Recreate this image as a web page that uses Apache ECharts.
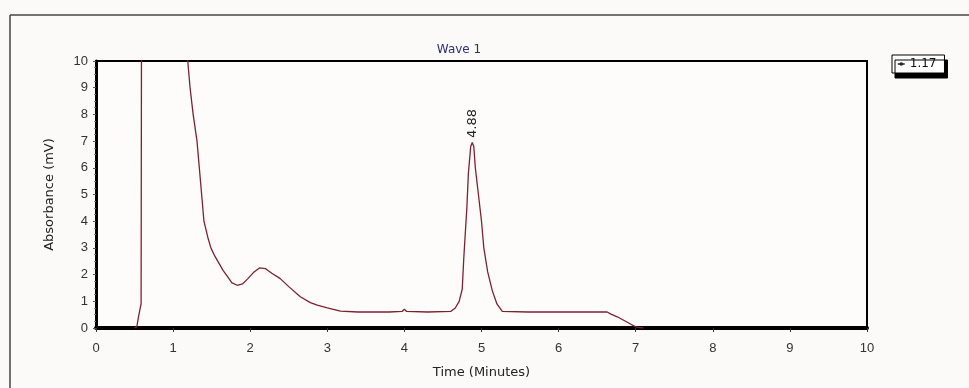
<!DOCTYPE html>
<html>
<head>
<meta charset="utf-8">
<script src="https://cdn.jsdelivr.net/npm/echarts@6/dist/echarts.min.js"></script>
<style>
  html, body { margin: 0; padding: 0; background: #fcfaf8; }
  #chart { width: 969px; height: 388px; }
</style>
</head>
<body>
<div id="chart"></div>
<script>
// Chromatogram trace (minutes, mV)
const times = [
  0.50, 0.53, 0.55, 0.57, 0.585, 0.59, 1.17, 1.19, 1.22, 1.26, 1.31, 1.34, 1.37, 1.40,
  1.45, 1.49, 1.54, 1.59, 1.65, 1.70, 1.76, 1.83, 1.90, 1.97, 2.05, 2.12, 2.20, 2.28,
  2.39, 2.50, 2.65, 2.78, 2.87, 3.00, 3.17, 3.40, 3.80, 3.97, 4.00, 4.03, 4.30, 4.60,
  4.66, 4.71, 4.75, 4.77, 4.81, 4.83, 4.86, 4.88, 4.90, 4.92, 4.96, 5.00, 5.03, 5.08,
  5.14, 5.20, 5.27, 5.60, 6.00, 6.40, 6.63, 6.68, 6.76, 6.85, 6.95, 7.02, 7.10
];
const absorbance = [
  0, 0.05, 0.4, 0.7, 0.9, 11, 11, 10, 9.0, 8.0, 7.0, 6.0, 5.0, 4.0,
  3.4, 3.0, 2.7, 2.45, 2.15, 1.95, 1.7, 1.6, 1.65, 1.85, 2.1, 2.25, 2.22, 2.05,
  1.85, 1.55, 1.17, 0.95, 0.86, 0.75, 0.63, 0.6, 0.6, 0.62, 0.7, 0.62, 0.6, 0.62,
  0.75, 1.0, 1.45, 2.6, 4.5, 5.8, 6.8, 6.95, 6.8, 6.0, 5.0, 4.0, 3.0, 2.1,
  1.4, 0.9, 0.62, 0.6, 0.6, 0.6, 0.6, 0.52, 0.42, 0.28, 0.12, 0.02, 0
];
const xTicks = [0, 1, 2, 3, 4, 5, 6, 7, 8, 9, 10];
const yTicks = [0, 1, 2, 3, 4, 5, 6, 7, 8, 9, 10];
const peakTime = 4.88;
const peakValue = 6.95;
const seriesName = '1.17';

const chart = echarts.init(document.getElementById('chart'));
const font = '"Liberation Sans", Arial, sans-serif';
const wideFont = '"DejaVu Sans", Verdana, sans-serif';

chart.setOption({
  backgroundColor: '#fcfaf8',
  animation: false,
  textStyle: { fontFamily: font },
  title: {
    text: 'Wave 1',
    left: 454,
    top: 39,
    textAlign: 'center',
    textStyle: { color: '#2b2f78', fontSize: 12, fontWeight: 'normal', fontFamily: wideFont }
  },
  legend: {
    data: [{ name: seriesName, itemStyle: { color: '#222' }, lineStyle: { color: '#222', width: 1.5 } }],
    left: 892,
    top: 55,
    padding: [3, 8, 3, 5],
    itemWidth: 7,
    itemHeight: 2,
    itemGap: 4,
    backgroundColor: '#ffffff',
    borderColor: '#000',
    borderWidth: 1,
    shadowColor: '#000',
    shadowBlur: 0,
    shadowOffsetX: 3,
    shadowOffsetY: 5,
    textStyle: { color: '#111', fontSize: 12, fontFamily: wideFont }
  },
  grid: {
    left: 96,
    right: 102,
    top: 61,
    bottom: 60,
    show: true,
    backgroundColor: '#fefcfb',
    borderColor: '#000',
    borderWidth: 2
  },
  xAxis: {
    type: 'value',
    min: xTicks[0],
    max: xTicks[xTicks.length - 1],
    interval: 1,
    name: 'Time (Minutes)',
    nameLocation: 'middle',
    nameGap: 38,
    nameTextStyle: { color: '#222', fontSize: 13, fontFamily: wideFont },
    axisLine: { onZero: false, lineStyle: { color: '#000', width: 4 } },
    axisTick: { length: 4, lineStyle: { color: '#333' } },
    axisLabel: { color: '#333', fontSize: 13, margin: 14, fontFamily: font },
    splitLine: { show: false }
  },
  yAxis: {
    type: 'value',
    min: yTicks[0],
    max: yTicks[yTicks.length - 1],
    interval: 1,
    name: 'Absorbance (mV)',
    nameLocation: 'middle',
    nameGap: 40,
    nameTextStyle: { color: '#222', fontSize: 13, fontFamily: wideFont },
    axisLine: { lineStyle: { color: '#000', width: 3 } },
    axisTick: { length: 3, lineStyle: { color: '#555' } },
    minorTick: { show: true, splitNumber: 4, length: 2, lineStyle: { color: '#777' } },
    axisLabel: { color: '#333', fontSize: 13, margin: 8, fontFamily: font },
    splitLine: { show: false }
  },
  series: [{
    name: seriesName,
    type: 'line',
    data: times.map((t, i) => [t, absorbance[i]]),
    showSymbol: false,
    clip: true,
    lineStyle: { color: '#7b2230', width: 1.3 },
    itemStyle: { color: '#7b2230' },
    markPoint: {
      symbol: 'circle',
      symbolSize: 0,
      data: [{ coord: [peakTime, peakValue], value: peakTime }],
      label: {
        show: true,
        formatter: String(peakTime),
        position: 'inside',
        offset: [19, 0],
        rotate: 90,
        color: '#222',
        fontSize: 13,
        fontFamily: wideFont
      }
    }
  }],
  graphic: [
    { type: 'line', shape: { x1: 10, y1: 15, x2: 969, y2: 15 }, style: { stroke: '#444', lineWidth: 1.5 } },
    { type: 'line', shape: { x1: 10, y1: 15, x2: 10, y2: 388 }, style: { stroke: '#444', lineWidth: 1.5 } }
  ]
});
</script>
</body>
</html>
